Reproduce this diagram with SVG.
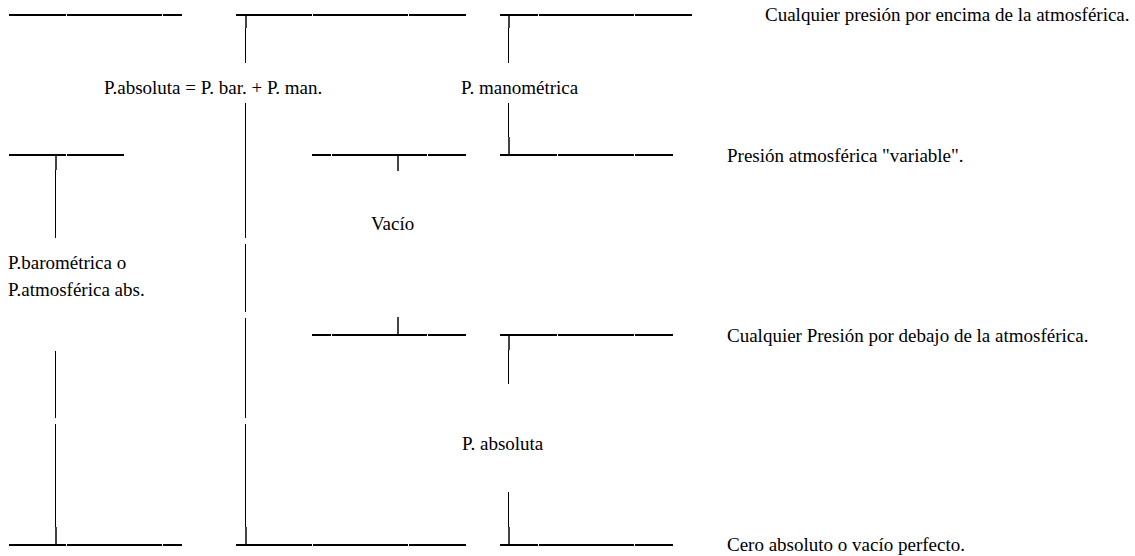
<svg xmlns="http://www.w3.org/2000/svg" width="1135" height="556" viewBox="0 0 1135 556">
<style>
.lv{stroke:#000;stroke-width:2;fill:none}
.vt{stroke:#000;stroke-width:1;fill:none}
.tk{stroke:#444;stroke-width:2;fill:none}
.t{font-family:'Liberation Serif','Times New Roman',Times,serif;font-size:19px;fill:#000}
</style>
<rect width="1135" height="556" fill="#fff"/>
<g id="levels">
  <g id="level-top">
    <path class="lv" d="M9 15H66M67 15H162M163 15H182"/>
    <path class="lv" d="M236 15H312M313 15H408M409 15H466"/>
    <path class="lv" d="M500 15H538M539 15H634M635 15H692"/>
  </g>
  <g id="level-atm">
    <path class="lv" d="M9 155H66M67 155H124"/>
    <path class="lv" d="M312 155H331M332 155H427M428 155H466"/>
    <path class="lv" d="M500 155H557M558 155H634M635 155H673"/>
  </g>
  <g id="level-vacuum">
    <path class="lv" d="M312 335H331M332 335H427M428 335H466"/>
    <path class="lv" d="M500 335H557M558 335H634M635 335H673"/>
  </g>
  <g id="level-zero">
    <path class="lv" d="M9 545H66M67 545H162M163 545H182"/>
    <path class="lv" d="M236 545H312M313 545H408M409 545H466"/>
    <path class="lv" d="M500 545H538M539 545H634M635 545H673"/>
  </g>
</g>
<g id="connectors">
  <path class="vt" d="M55.5 170V238M55.5 351V418M55.5 424V527"/>
  <path class="vt" d="M245.5 28V63M245.5 103V238M245.5 244V312M245.5 318V418M245.5 424V527"/>
  <path class="vt" d="M508.5 28V63M508.5 103V137M508.5 350V384M508.5 492V527"/>
  <path class="tk" d="M56 156V170M56 527V544"/>
  <path class="tk" d="M246 16V28M246 527V544"/>
  <path class="tk" d="M509 16V28M509 137V154M509 336V350M509 527V544"/>
  <path class="tk" d="M398 156V171M398 317V334"/>
</g>
<g id="label-absoluta-formula"><text class="t" x="104" y="94">P.absoluta = P. bar. + P. man.</text></g>
<g id="label-manometrica"><text class="t" x="461" y="94">P. manométrica</text></g>
<g id="label-vacio"><text class="t" x="371" y="230">Vacío</text></g>
<g id="label-barometrica"><text class="t" x="8" y="269">P.barométrica o</text><text class="t" x="8" y="296">P.atmosférica abs.</text></g>
<g id="label-absoluta"><text class="t" x="462" y="450">P. absoluta</text></g>
<g id="desc-above"><text class="t" x="765" y="21">Cualquier presión por encima de la atmosférica.</text></g>
<g id="desc-atm"><text class="t" x="727" y="162">Presión atmosférica "variable".</text></g>
<g id="desc-below"><text class="t" x="727" y="342">Cualquier Presión por debajo de la atmosférica.</text></g>
<g id="desc-zero"><text class="t" x="727" y="551">Cero absoluto o vacío perfecto.</text></g>
</svg>
